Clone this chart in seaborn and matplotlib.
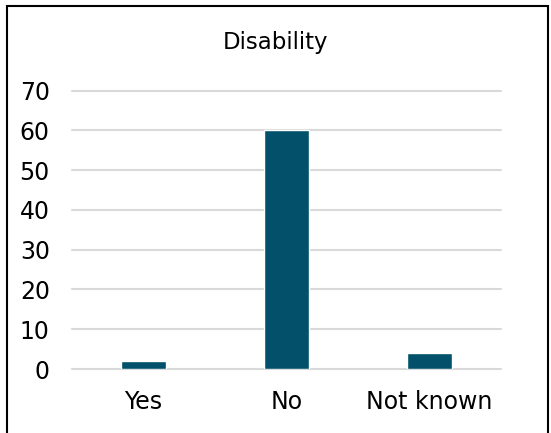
import matplotlib
matplotlib.use('Agg')
import matplotlib.pyplot as plt
import matplotlib.patches as patches
import seaborn as sns
import pandas as pd

# chart data
categories = ['Yes', 'No', 'Not known']
counts = [2, 60, 4]
title = 'Disability'
yticks = [0, 10, 20, 30, 40, 50, 60, 70]

bar_color = '#02506A'
grid_color = '#D9D9D9'

sns.set_theme(style='white')
plt.rcParams['font.family'] = ['DejaVu Sans']

df = pd.DataFrame({'category': categories, 'count': counts})

fig = plt.figure(figsize=(5.51, 4.33), dpi=100)
ax = fig.add_axes([0.1307, 0.1478, 0.9090 - 0.1307, 0.7905 - 0.1478])

sns.barplot(x='category', y='count', data=df, order=categories,
            color=bar_color, width=0.31, saturation=1, ax=ax)

ax.set_ylim(0, 70)
ax.set_xlim(-0.5, 2.5)
ax.set_yticks(yticks)
ax.yaxis.grid(True, color=grid_color, linewidth=1.5)
ax.set_axisbelow(True)
for line in ax.get_ygridlines():
    line.set_clip_on(False)
for s in ax.spines.values():
    s.set_visible(False)
ax.set_xlabel('')
ax.set_ylabel('')
ax.tick_params(axis='y', length=0, pad=16, labelsize=17, labelcolor='black')
ax.tick_params(axis='x', length=0, pad=15, labelsize=17, labelcolor='black')

fig.text(0.5, 1 - 42 / 433, title, ha='center', va='center', fontsize=16.5, color='black')

# outer border of the chart
border = patches.Rectangle((7 / 551, -0.05), (548 - 7) / 551, 1.05 - 6 / 433,
                           transform=fig.transFigure, fill=False,
                           edgecolor='black', linewidth=1.5, clip_on=False)
fig.patches.append(border)

fig.savefig('out.png', dpi=100)
